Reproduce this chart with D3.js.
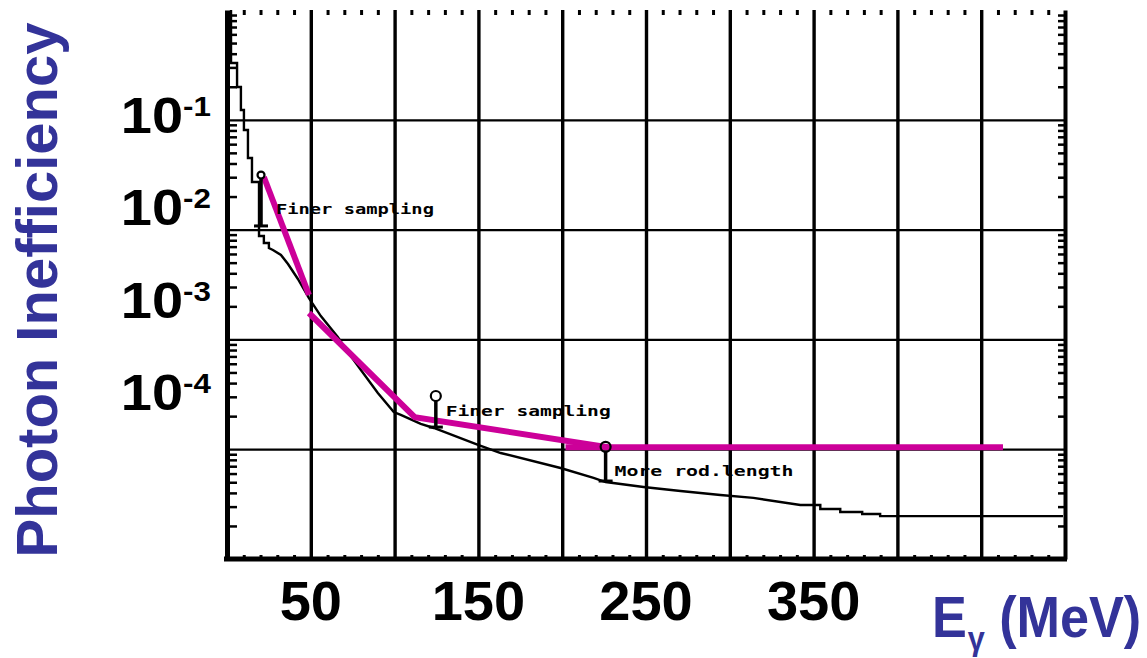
<!DOCTYPE html>
<html>
<head>
<meta charset="utf-8">
<script src="https://cdn.jsdelivr.net/npm/d3@7/dist/d3.min.js"></script>
<style>
  html, body { margin: 0; padding: 0; background: #fff; }
  svg { display: block; }
  .lab { font-family: "Liberation Sans", Arial, sans-serif; font-weight: bold; }
</style>
</head>
<body>
<div id="chart"></div>
<script>
// photon inefficiency vs photon energy
var histE = [2.4,2.4,6.0,6.0,8.3,8.3,10.1,10.1,12.5,12.5,14.9,14.9,19.1,19.1,22.0,22.0,25.0,25.0,27.4,32.2,36.4,42.3,48.9,56.0,66.1,72.1,79.9,90.0,99.5,103.7,115.6,123.4,150.2,163.3,199.0,218.7,225.9,248.5,270.6,294.4,314.1,342.1,354.0,354.0,365.9,365.9,379.0,379.0,389.7,389.7,498.8];
var histEff = [1.0,0.329,0.329,0.199,0.199,0.123,0.123,0.0807,0.0807,0.0449,0.0449,0.0271,0.0271,0.00874,0.00874,0.00755,0.00755,0.00680,0.00652,0.00587,0.00486,0.00355,0.00238,0.00163,0.00105,0.000768,0.000526,0.000325,0.000218,0.000205,0.000170,0.000156,0.000109,9.23e-5,6.74e-5,5.47e-5,5.02e-5,4.53e-5,4.16e-5,3.83e-5,3.60e-5,3.10e-5,3.10e-5,2.85e-5,2.85e-5,2.68e-5,2.68e-5,2.57e-5,2.57e-5,2.46e-5,2.46e-5];

// magenta requirement line, three pieces
var reqE1 = [22.0, 48.9],          reqEff1 = [0.0301, 0.00254];
var reqE2 = [48.9, 112.0, 227.1],  reqEff2 = [0.00174, 0.000196, 0.000104];
var reqE3 = [202.0, 463.0],        reqEff3 = [0.000104, 0.000104];

// annotation markers
var markerE = [20.3, 124.6, 225.9];
var markerTop = [0.0314, 3.05e-4, 1.05e-4];
var markerBottom = [0.0108, 1.59e-4, 5.13e-5];
var noteText = ["Finer sampling", "Finer sampling", "More rod.length"];
var noteE = [29.2, 130.5, 231.2];
var noteEff = [0.01387, 2.01e-4, 5.70e-5];

// axis labels
var xLabelVals = [50, 150, 250, 350];
var yLabelVals = [1e-1, 1e-2, 1e-3, 1e-4];
var yLabelExp = ["-1", "-2", "-3", "-4"];

drawChart("chart");

function drawChart(container){
	var W = 1147, H = 658;
	var left = 227, right = 1065, top = 10, bottom = 559;

	var svg = d3.select("#"+container).append("svg")
		.attr("width", W).attr("height", H);

	var x = d3.scaleLinear().domain([0, 500]).range([left, right]);
	var y = d3.scaleLog().domain([1e-5, 1]).range([bottom, top]);

	var minorE = d3.range(10, 500, 10).filter(function(d){ return d % 50 != 0; });
	var logTicks = [];
	[-5,-4,-3,-2,-1].forEach(function(k){
		for (var m = 2; m <= 9; m++) logTicks.push(m*Math.pow(10,k));
	});

	// grid
	svg.append("g").attr("class","vgrid")
		.attr("transform","translate(0,"+bottom+")")
		.call(d3.axisBottom(x).tickValues(d3.range(50,500,50)).tickSize(-(bottom-top)).tickFormat(""))
		.call(function(g){ g.select(".domain").remove(); })
		.selectAll("line").attr("stroke","#000").attr("stroke-width",3.4);
	svg.append("g").attr("class","hgrid")
		.attr("transform","translate("+left+",0)")
		.call(d3.axisLeft(y).tickValues(yLabelVals).tickSize(-(right-left)).tickFormat(""))
		.call(function(g){ g.select(".domain").remove(); })
		.selectAll("line").attr("stroke","#000").attr("stroke-width",2.2);

	// frame and ticks
	var gl = svg.append("g").attr("transform","translate("+left+",0)")
		.call(d3.axisLeft(y).tickValues(logTicks).tickSizeInner(-10).tickSizeOuter(0).tickFormat(""));
	gl.select(".domain").attr("stroke","#000").attr("stroke-width",5);
	gl.selectAll(".tick line").attr("stroke","#000").attr("stroke-width",2.5);

	var gr = svg.append("g").attr("transform","translate("+right+",0)")
		.call(d3.axisRight(y).tickValues(logTicks).tickSizeInner(-7).tickSizeOuter(0).tickFormat(""));
	gr.select(".domain").attr("stroke","#000").attr("stroke-width",4);
	gr.selectAll(".tick line").attr("stroke","#000").attr("stroke-width",2.5);

	var gb = svg.append("g").attr("transform","translate(0,"+bottom+")")
		.call(d3.axisBottom(x).tickValues(minorE).tickSizeInner(-4).tickSizeOuter(0).tickFormat(""));
	gb.select(".domain").attr("stroke","#000").attr("stroke-width",5).attr("d","M"+(left-3)+",0H"+(right+2));
	gb.selectAll(".tick line").attr("stroke","#000").attr("stroke-width",3);

	var gt = svg.append("g").attr("transform","translate(0,"+top+")")
		.call(d3.axisTop(x).tickValues(minorE).tickSizeInner(-5).tickSizeOuter(0).tickFormat(""));
	gt.select(".domain").remove();
	gt.selectAll(".tick line").attr("stroke","#000").attr("stroke-width",3);

	// histogram curve
	var line = d3.line()
		.x(function(d){ return x(d[0]); })
		.y(function(d){ return y(d[1]); });

	svg.append("path")
		.datum(d3.zip(histE, histEff))
		.attr("d", line)
		.attr("fill","none").attr("stroke","#000").attr("stroke-width",2.4);

	// requirement line
	[[reqE1,reqEff1],[reqE2,reqEff2],[reqE3,reqEff3]].forEach(function(s){
		svg.append("path")
			.datum(d3.zip(s[0], s[1]))
			.attr("d", line)
			.attr("fill","none").attr("stroke","#cc0099").attr("stroke-width",6)
			.attr("stroke-linejoin","miter");
	});

	// markers
	var mk = svg.append("g").attr("class","markers");
	markerE.forEach(function(e, i){
		var cx = x(e);
		mk.append("line")
			.attr("x1",cx).attr("x2",cx)
			.attr("y1",y(markerTop[i])+4).attr("y2",y(markerBottom[i]))
			.attr("stroke","#000").attr("stroke-width",3.5);
		mk.append("line")
			.attr("x1",cx-7).attr("x2",cx+7)
			.attr("y1",y(markerBottom[i])).attr("y2",y(markerBottom[i]))
			.attr("stroke","#000").attr("stroke-width",3);
		mk.append("circle")
			.attr("cx",cx).attr("cy",y(markerTop[i]))
			.attr("r",i==0 ? 3.5 : 5)
			.attr("fill","none").attr("stroke","#000").attr("stroke-width",2.2);
	});
	var noteLen = [158, 165, 179];
	noteText.forEach(function(t, i){
		svg.append("text")
			.attr("x", x(noteE[i])).attr("y", y(noteEff[i]))
			.attr("textLength", noteLen[i]).attr("lengthAdjust","spacingAndGlyphs")
			.style("font-family","'DejaVu Sans Mono', monospace")
			.style("font-weight","bold").style("font-size","14px")
			.text(t);
	});

	// tick labels
	var labelY = d3.scaleLog().domain([1e-1, 1e-4]).range([133, 410]);
	yLabelVals.forEach(function(v, i){
		var t = svg.append("text").attr("class","lab")
			.attr("transform","translate(211,"+labelY(v)+") scale(1.12,1)")
			.attr("text-anchor","end");
		t.append("tspan").style("font-size","50px").text("10");
		t.append("tspan").style("font-size","28px").attr("dy",-17).text(yLabelExp[i]);
	});
	svg.selectAll(".xlab").data(xLabelVals).enter().append("text")
		.attr("class","lab xlab")
		.attr("x", function(d){ return x(d); }).attr("y", 620)
		.attr("text-anchor","middle")
		.style("font-size","56px")
		.text(function(d){ return d; });

	// axis titles
	svg.append("text").attr("class","lab")
		.attr("transform","translate(57,290) rotate(-90)")
		.attr("text-anchor","middle")
		.style("font-size","58px").attr("fill","#333399")
		.text("Photon Inefficiency");

	var xt = svg.append("text").attr("class","lab")
		.attr("transform","translate(932,637) scale(0.9,1)")
		.attr("fill","#333399");
	xt.append("tspan").style("font-size","58px").text("E");
	xt.append("tspan").style("font-size","34px").attr("dx",1).attr("dy",13).text("γ");
	xt.append("tspan").style("font-size","58px").attr("dx",16).attr("dy",-13).text("(MeV)");
}
</script>
</body>
</html>
